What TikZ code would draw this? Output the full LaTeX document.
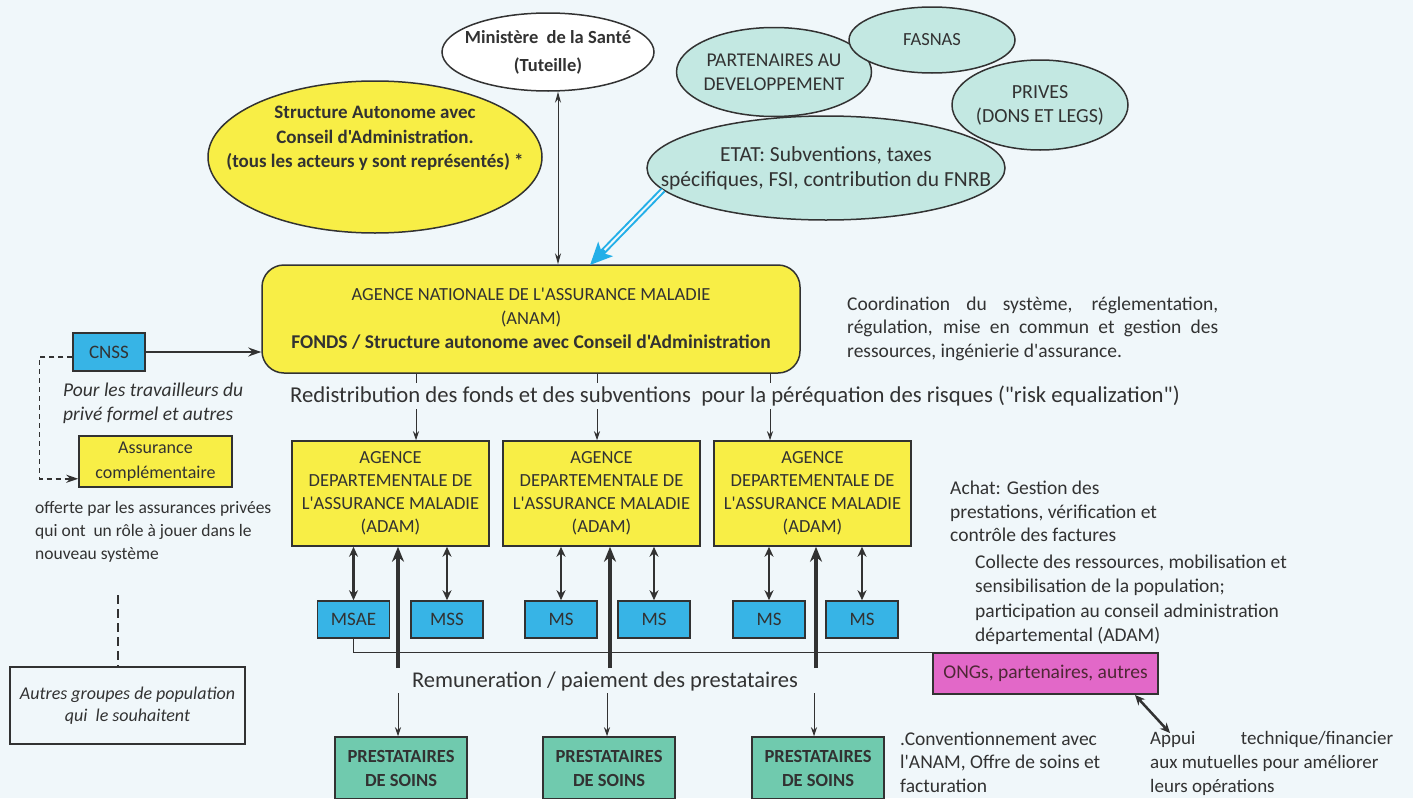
\documentclass[tikz,border=0pt]{standalone}
\usepackage{fontspec}
\setmainfont{Carlito}[Ligatures=TeXOff]
\usetikzlibrary{shapes.geometric,arrows.meta,calc}
\definecolor{bg}{RGB}{240,247,250}
\definecolor{yel}{RGB}{248,238,70}
\definecolor{tealf}{RGB}{195,232,226}
\definecolor{bluebox}{RGB}{55,180,230}
\definecolor{pinkf}{RGB}{226,104,200}
\definecolor{prestf}{RGB}{112,202,174}
\definecolor{txt}{RGB}{50,50,50}
\definecolor{arrowblue}{RGB}{35,175,232}
\tikzset{
  boxn/.style={draw=txt, line width=1.5pt, text=txt, inner sep=0pt, align=center},
  ell/.style={ellipse, draw=txt, line width=1.5pt, inner sep=0pt},
  plain/.style={text=txt, inner sep=0pt},
  conn/.style={draw=txt, line width=1pt},
  tipS/.style={-{Stealth[length=9pt,width=6pt]}},
  dbl/.style={draw=txt, line width=2.5pt, {Stealth[length=10pt,width=9pt]}-{Stealth[length=10pt,width=9pt]}},
  thickup/.style={draw=txt, line width=4pt, -{Stealth[length=15pt,width=12pt]}},
}
\begin{document}
\begin{tikzpicture}[x=1pt,y=-1pt]
\useasboundingbox[fill=bg] (0,0) rectangle (1413,798);

% top ellipses
\node[ell, fill=white, minimum width=212pt, minimum height=78pt] (min) at (548,52) {};
\node[plain, align=center, font=\bfseries\fontsize{18.5}{28}\selectfont] (minlbl) at (min) {Ministère\ \ de la Santé\\(Tuteille)};
\node[ell, fill=yel, minimum width=334pt, minimum height=152pt] (struct) at (375,157) {};
\node[plain, align=center, font=\bfseries\fontsize{19}{24.5}\selectfont] (structtxt) at (375,138.5) {Structure Autonome avec\\Conseil d'Administration.\\(tous les acteurs y sont représentés) *};

\node[ell, fill=tealf, minimum width=195pt, minimum height=89pt] (part) at (774,72) {};
\node[plain, align=center, font=\fontsize{19.5}{24.5}\selectfont] (partlbl) at (part) {PARTENAIRES AU\\DEVELOPPEMENT};
\node[ell, fill=tealf, minimum width=166pt, minimum height=66pt] (fasnas) at (932,40) {};
\node[plain, align=center, font=\fontsize{18.5}{24}\selectfont] (fasnaslbl) at (fasnas) {FASNAS};
\node[ell, fill=tealf, minimum width=176pt, minimum height=90pt] (prives) at (1040,105) {};
\node[plain, align=center, font=\fontsize{20}{24}\selectfont] (priveslbl) at (prives) {PRIVES\\(DONS ET LEGS)};
\node[ell, fill=tealf, minimum width=358pt, minimum height=104pt] (etat) at (826,168) {};
\node[plain, align=center, font=\fontsize{21.5}{25}\selectfont] (etatlbl) at (etat) {ETAT: Subventions, taxes\\spécifiques, FSI, contribution du FNRB};

% ANAM
\node[boxn, fill=yel, rounded corners=22pt, minimum width=538pt, minimum height=108pt, font=\fontsize{18.5}{24}\selectfont] (anam) at (531,319) {AGENCE NATIONALE DE L'ASSURANCE MALADIE\\(ANAM)\\\textbf{\fontsize{19.5}{24}\selectfont FONDS / Structure autonome avec Conseil d'Administration}};

\draw[conn, {Stealth[length=11pt,width=6pt]}-{Stealth[length=11pt,width=6pt]}] ($(min.south)+(10,0)$) -- ($(min.south |- anam.north)+(10,0)$);

\coordinate (etatout) at (663,190);
\coordinate (bluetip) at (590,265);
\draw[arrowblue, line width=6pt, -{Stealth[length=22pt,width=20pt,inset=5pt]}] (etatout) -- (bluetip);
\draw[bg, line width=2pt, shorten >=21pt] (etatout) -- (bluetip);

\node[plain, anchor=west, align=left, font=\fontsize{19.5}{23.5}\selectfont] (coord) at (847,328.5) {\makebox[371pt][s]{Coordination du système, réglementation,}\\\makebox[371pt][s]{régulation, mise en commun et gestion des}\\ressources, ingénierie d'assurance.};

% left side
\node[boxn, fill=bluebox, minimum width=72pt, minimum height=38pt, font=\fontsize{19}{23}\selectfont] (cnss) at (109,352) {CNSS};
\draw[draw=txt, line width=1.5pt, -{Stealth[length=13pt,width=9pt]}] (cnss.east) -- (cnss.east -| anam.west);
\node[plain, anchor=west, align=left, font=\itshape\fontsize{19.5}{23.5}\selectfont] (pour) at (63,403.5) {Pour les travailleurs du\\privé formel et autres};
\node[boxn, fill=yel, minimum width=153pt, minimum height=51pt, font=\fontsize{18}{25}\selectfont] (assur) at (155.5,461.5) {Assurance\\complémentaire};
\draw[draw=txt, line width=1.5pt, dash pattern=on 5pt off 4pt, -{Stealth[length=12pt,width=8pt]}] ($(cnss.west)+(0,5)$) -- ++(-33,0) |- ($(assur.south west)+(0,-9)$);
\node[plain, anchor=west, align=left, font=\fontsize{17.5}{23}\selectfont] (offerte) at (35,532) {offerte par les assurances privées\\qui ont\ \ un rôle à jouer dans le\\nouveau système};
\node[boxn, minimum width=235pt, minimum height=77pt, font=\itshape\fontsize{18}{22.5}\selectfont] (autres) at (127.5,705.5) {Autres groupes de population\\qui\ \ le souhaitent};
\coordinate (dashtop) at (118,595);
\draw[draw=txt, line width=1.8pt, dash pattern=on 9pt off 5pt] (dashtop) -- (dashtop |- autres.north);

% ADAM
\foreach \n/\x in {adam1/390.5, adam2/601.5, adam3/812.5}{
  \node[boxn, fill=yel, minimum width=197pt, minimum height=105pt, font=\fontsize{18.5}{23}\selectfont] (\n) at (\x,493.5) {AGENCE\\DEPARTEMENTALE DE\\L'ASSURANCE MALADIE\\(ADAM)};
}
\foreach \n/\x in {adam1/416, adam2/597, adam3/770}{
  \draw[conn, tipS] (anam.south -| \x,0) -- (\n.north -| \x,0);
}
\node[plain, fill=bg, inner ysep=3pt, font=\fontsize{22.7}{23}\selectfont] (redist) at (735,396) {Redistribution des fonds et des subventions\ \ pour la péréquation des risques ("risk equalization")};

% MS boxes
\foreach \n/\x/\t in {msae/353.5/MSAE, mss/447/MSS, ms1/561/MS, ms2/654/MS, ms3/769/MS, ms4/862/MS}{
  \node[boxn, fill=bluebox, minimum width=72pt, minimum height=37pt, font=\fontsize{19}{23}\selectfont] (\n) at (\x,619.5) {\t};
}
\node[boxn, fill=pinkf, minimum width=225pt, minimum height=41pt, font=\fontsize{19.5}{23}\selectfont, text=txt!80!purple] (ong) at (1045.5,673.5) {ONGs, partenaires, autres};
\draw[draw=txt, line width=1.5pt] (msae.south) |- (ong.north west);

\draw[dbl] (adam1.south -| msae.north) -- (msae.north);
\draw[dbl] (adam1.south -| mss.north) -- (mss.north);
\draw[dbl] (adam2.south -| ms1.north) -- (ms1.north);
\draw[dbl] (adam2.south -| ms2.north) -- (ms2.north);
\draw[dbl] (adam3.south -| ms3.north) -- (ms3.north);
\draw[dbl] (adam3.south -| ms4.north) -- (ms4.north);

% prestataires
\foreach \n/\x in {prest1/401, prest2/609, prest3/818}{
  \node[boxn, fill=prestf, minimum width=132pt, minimum height=62pt, font=\bfseries\fontsize{18.5}{24}\selectfont] (\n) at (\x,768) {PRESTATAIRES\\DE SOINS};
}
\coordinate (up1) at (398,668);
\coordinate (up2) at (610,668);
\coordinate (up3) at (816,668);
\draw[thickup] (up1) -- (up1 |- adam1.south);
\draw[thickup] (up2) -- (up2 |- adam2.south);
\draw[thickup] (up3) -- (up3 |- adam3.south);
\node[plain, font=\fontsize{22.5}{23}\selectfont] (remu) at (605,681) {Remuneration / paiement des prestataires};
\coordinate (dn1) at (398,693);
\coordinate (dn2) at (607,693);
\coordinate (dn3) at (814,693);
\draw[conn, tipS] (dn1) -- (dn1 |- prest1.north);
\draw[conn, tipS] (dn2) -- (dn2 |- prest2.north);
\draw[conn, tipS] (dn3) -- (dn3 |- prest3.north);

% right texts
\node[plain, anchor=west, align=left, font=\fontsize{19.5}{23.5}\selectfont] (achat) at (950,511.5) {Achat: Gestion des\\prestations, vérification et\\contrôle des factures};
\node[plain, anchor=west, align=left, font=\fontsize{19.5}{24.5}\selectfont] (collecte) at (975,600) {Collecte des ressources, mobilisation et\\sensibilisation de la population;\\participation au conseil administration\\départemental (ADAM)};
\node[plain, anchor=west, align=left, font=\fontsize{19.5}{23.5}\selectfont] (conv) at (900,762) {.Conventionnement avec\\l'ANAM, Offre de soins et\\facturation};
\node[plain, anchor=west, align=left, font=\fontsize{19}{24}\selectfont] (appui) at (1150,763) {\makebox[243pt][s]{Appui technique/financier}\\aux mutuelles pour améliorer\\leurs opérations};
\coordinate (ongout) at (1135,695);
\coordinate (appuiin) at (1170,733);
\draw[draw=txt, line width=2.5pt, {Stealth[length=10pt,width=9pt]}-{Stealth[length=10pt,width=9pt]}] (ongout) -- (appuiin);
\end{tikzpicture}
\end{document}
